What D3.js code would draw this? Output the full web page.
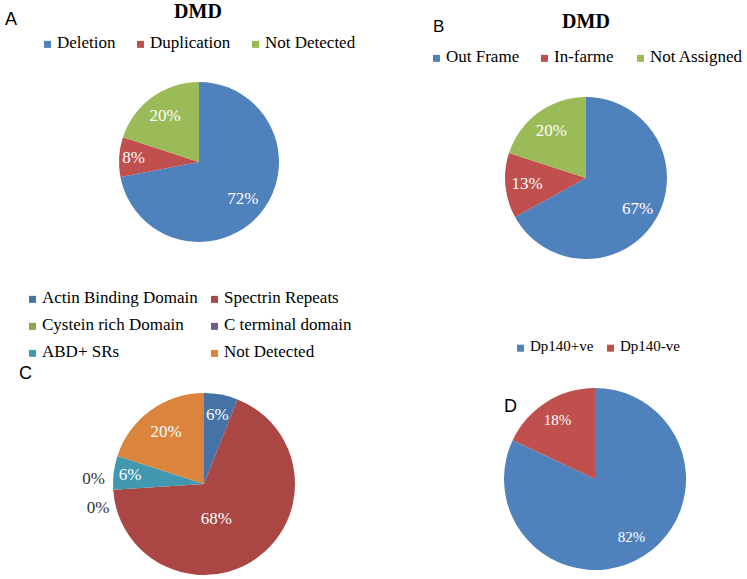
<!DOCTYPE html>
<html><head><meta charset="utf-8">
<script src="https://cdn.jsdelivr.net/npm/d3@7"></script>
<style>body{margin:0;background:#fff}svg{display:block}</style>
</head><body>
<script>
// ---- data ----
const catsA = ["Deletion", "Duplication", "Not Detected"];
const valsA = [72, 8, 20];
const catsB = ["Out Frame", "In-farme", "Not Assigned"];
const valsB = [67, 13, 20];
const catsC = ["Actin Binding Domain", "Spectrin Repeats", "Cystein rich Domain", "C terminal domain", "ABD+ SRs", "Not Detected"];
const valsC = [6, 68, 0, 0, 6, 20];
const catsD = ["Dp140+ve", "Dp140-ve"];
const valsD = [82, 18];
const titleA = "DMD", titleB = "DMD";

// ---- styles / layout ----
const colorsAB = ["#4F81BD", "#C0504D", "#9BBB59"];
const colorsC = ["#4572A7", "#AA4643", "#89A54E", "#71588F", "#4198AF", "#DB843D"];
const colorsD = ["#4F81BD", "#C0504D"];
const serif = "'Liberation Serif','Times New Roman',serif";
const sans = "'Liberation Sans',Arial,sans-serif";

const W = 747, H = 579;
const svg = d3.select("body").append("svg").attr("width", W).attr("height", H);

function drawPie(cfg) {
  const g = svg.append("g").attr("transform", `translate(${cfg.cx},${cfg.cy})`);
  const pie = d3.pie().sort(null).value(d => d);
  const arcs = pie(cfg.values);
  const arc = d3.arc().innerRadius(0).outerRadius(cfg.r);
  g.selectAll("path").data(arcs).enter().append("path")
    .attr("d", arc).attr("fill", (d, i) => cfg.colors[i]);
  const total = d3.sum(cfg.values);
  g.selectAll("text").data(arcs).enter().append("text")
    .attr("transform", (d, i) => {
      const lp = cfg.labelPos[i];
      const a = lp.a !== undefined ? lp.a * Math.PI / 180 : (d.startAngle + d.endAngle) / 2;
      const rr = lp.f * cfg.r;
      return `translate(${rr * Math.sin(a)},${-rr * Math.cos(a)})`;
    })
    .attr("text-anchor", "middle").attr("dominant-baseline", "central")
    .attr("font-family", serif).attr("font-size", cfg.labelSize)
    .attr("fill", (d, i) => cfg.labelPos[i].dark ? "#333" : "#fff")
    .text(d => Math.round(d.data / total * 100) + "%");
}

function drawLegend(items, colors, pos, size) {
  items.forEach((t, i) => {
    const p = pos[i];
    svg.append("rect").attr("x", p[0]).attr("y", p[1] - size * 0.42).attr("width", 7).attr("height", 7)
      .attr("fill", colors[i]);
    svg.append("text").attr("x", p[0] + 13).attr("y", p[1]).attr("font-family", serif)
      .attr("font-size", size).attr("fill", "#000").text(t);
  });
}

function panelLetter(t, x, y, s) {
  svg.append("text").attr("x", x).attr("y", y).attr("font-family", sans).attr("font-size", s).attr("fill", "#000").text(t);
}
function title(t, x, y) {
  svg.append("text").attr("x", x).attr("y", y).attr("text-anchor", "middle").attr("font-family", serif)
    .attr("font-weight", "bold").attr("font-size", 20).attr("fill", "#000").text(t);
}

// Panel A
panelLetter("A", 5, 25, 18);
title(titleA, 198, 18);
drawLegend(catsA, colorsAB, [[44, 48], [137, 48], [252, 48]], 17);
drawPie({cx: 199, cy: 162, r: 80, values: valsA, colors: colorsAB, labelSize: 17,
  labelPos: [{f: 0.71}, {f: 0.82}, {f: 0.72}]});

// Panel B
panelLetter("B", 433, 32, 17);
title(titleB, 586, 28);
drawLegend(catsB, colorsAB, [[433, 62], [541, 62], [637, 62]], 17);
drawPie({cx: 586, cy: 178, r: 81, values: valsB, colors: colorsAB, labelSize: 17,
  labelPos: [{f: 0.74}, {f: 0.73}, {f: 0.73}]});

// Panel C
drawLegend(catsC, colorsC, [[29, 303], [211, 303], [29, 330], [211, 330], [29, 357], [211, 357]], 17);
panelLetter("C", 19, 379, 18);
drawPie({cx: 204, cy: 484, r: 91, values: valsC, colors: colorsC, labelSize: 17,
  labelPos: [{f: 0.78}, {f: 0.4, a: 160}, {f: 1.215, a: 272.6, dark: true}, {f: 1.19, a: 257.7, dark: true}, {f: 0.82}, {f: 0.71}]});

// Panel D
drawLegend(catsD, colorsD, [[517, 351], [607, 351]], 15);
panelLetter("D", 504, 412, 18);
drawPie({cx: 595, cy: 479, r: 91, values: valsD, colors: colorsD, labelSize: 15,
  labelPos: [{f: 0.75}, {f: 0.77}]});
</script>
</body></html>
